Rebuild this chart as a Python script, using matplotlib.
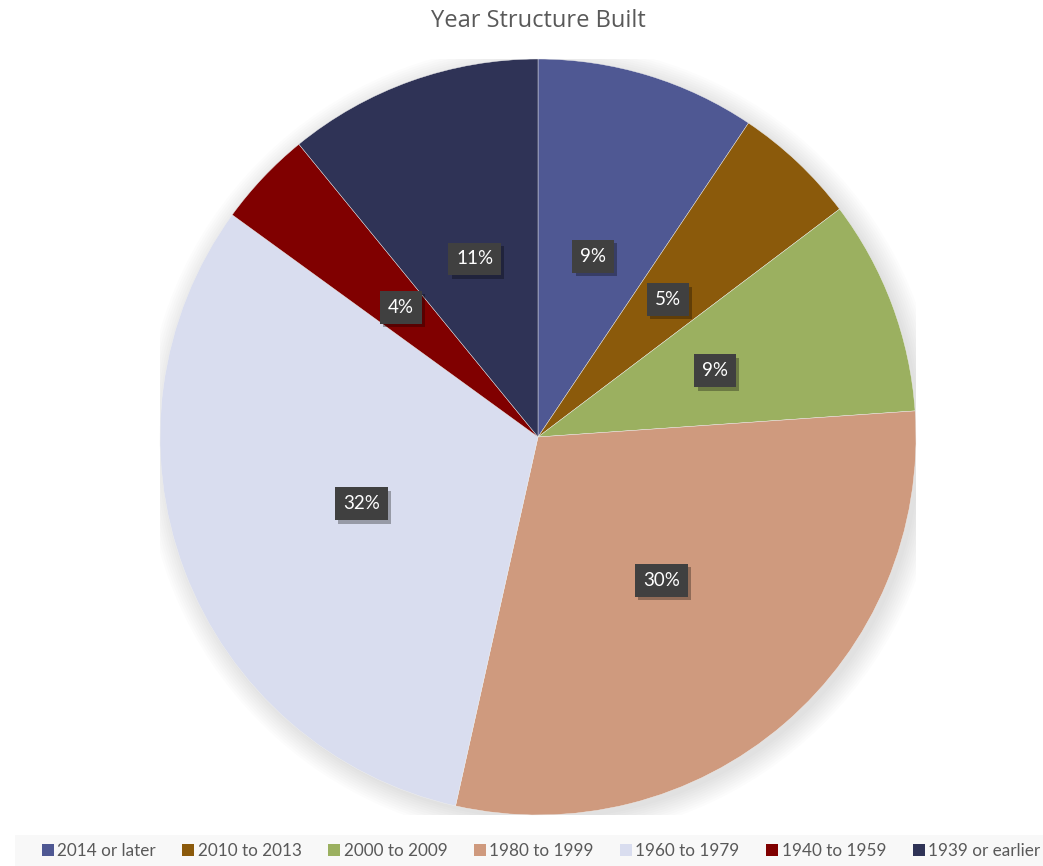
import matplotlib.pyplot as plt
import matplotlib.patheffects as pe
from matplotlib.patches import Circle, Patch

# data
categories = ['2014 or later', '2010 to 2013', '2000 to 2009', '1980 to 1999',
              '1960 to 1979', '1940 to 1959', '1939 or earlier']
shares = [9.4, 5.3, 9.2, 29.6, 31.5, 4.1, 10.9]
colors = ['#4f5893', '#8b5a0b', '#9bb060', '#cf9a7e', '#d9ddef', '#800000', '#2f3356']

plt.rcParams['font.family'] = ['Lato', 'DejaVu Sans']

fig = plt.figure(figsize=(10.43, 8.66), dpi=100)
W, H = 1043, 866
cx, cy, r = 538, 437, 378
ax = fig.add_axes([(cx - r) / W, (H - cy - r) / H, 2 * r / W, 2 * r / H])

# soft shadow behind the pie
for i in range(10):
    ax.add_patch(Circle((0.012, -0.012), 1.0 + 0.006 * i, color='black',
                        alpha=0.012, lw=0, zorder=0))

wedges, texts, autotexts = ax.pie(
    shares, colors=colors, startangle=90, counterclock=False,
    autopct=lambda p: f'{p:.0f}%', pctdistance=0.5,
    wedgeprops=dict(edgecolor='#f0f0f0', linewidth=0.3),
    textprops=dict(color='white', fontsize=13.5))
for w in wedges:
    w.set_zorder(2)
for t in autotexts:
    t.set_zorder(5)
    t.set_bbox(dict(boxstyle='square,pad=0.42', facecolor='#404040', edgecolor='none'))
    t.get_bbox_patch().set_path_effects([
        pe.SimplePatchShadow(offset=(2.5, -2.5), shadow_rgbFace='black', alpha=0.3),
        pe.Normal()])

ax.set_xlim(-1, 1)
ax.set_ylim(-1, 1)
ax.axis('off')

fig.text(538 / W, 1 - 21 / H, 'Year Structure Built', ha='center', va='center',
         fontsize=17, color='#595959', family=['Open Sans', 'DejaVu Sans'])

# legend strip
fig.patches.append(plt.Rectangle((15 / W, 0), 1 - 15 / W, 31 / H, transform=fig.transFigure,
                                 facecolor='#f8f8f8', edgecolor='none', zorder=0))
handles = [Patch(facecolor=c, edgecolor='none') for c in colors]
fig.legend(handles, categories, loc='center', bbox_to_anchor=(541 / W, 1 - 851 / H),
           ncol=7, frameon=False, fontsize=12.3, labelcolor='#595959',
           handlelength=0.7, handleheight=0.7, handletextpad=0.2, columnspacing=1.55)

fig.savefig('out.png', dpi=100)
